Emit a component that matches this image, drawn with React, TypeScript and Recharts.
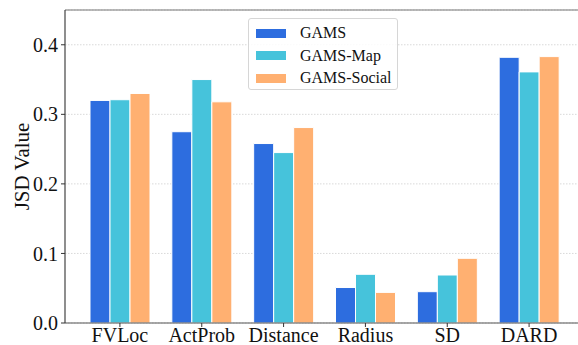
import React from 'react';
import { BarChart, Bar, XAxis, YAxis, CartesianGrid, Legend, ReferenceLine } from 'recharts';

const categories = ['FVLoc', 'ActProb', 'Distance', 'Radius', 'SD', 'DARD'];
const gams = [0.320, 0.275, 0.258, 0.051, 0.045, 0.382];
const gamsMap = [0.321, 0.350, 0.245, 0.070, 0.069, 0.361];
const gamsSocial = [0.330, 0.318, 0.281, 0.044, 0.093, 0.383];
const yTicks = [0, 0.1, 0.2, 0.3, 0.4];

const seriesNames = ['GAMS', 'GAMS-Map', 'GAMS-Social'];
const colors = ['#2d6ddf', '#46c3db', '#ffb071'];

const data = categories.map((c, i) => ({
  name: c,
  GAMS: gams[i],
  'GAMS-Map': gamsMap[i],
  'GAMS-Social': gamsSocial[i],
}));

const FONT = '"Liberation Serif", "Times New Roman", serif';

const LegendBox = () => (
  <div
    style={{
      width: 150,
      height: 72,
      border: '1px solid #d6d6d6',
      borderRadius: 3,
      background: 'rgba(255,255,255,0.85)',
      boxSizing: 'border-box',
      position: 'relative',
      fontFamily: FONT,
      fontSize: 16,
      color: '#111',
    }}
  >
    {seriesNames.map((n, i) => (
      <div key={n} style={{ position: 'absolute', left: 7, top: 4 + i * 22.5, height: 20, display: 'flex', alignItems: 'center' }}>
        <span style={{ display: 'inline-block', width: 30, height: 9, background: colors[i] }} />
        <span style={{ marginLeft: 14, lineHeight: '20px' }}>{n}</span>
      </div>
    ))}
  </div>
);

export default function App() {
  return (
    <div style={{ position: 'absolute', left: 0, top: 0, width: 578, height: 345, overflow: 'hidden', background: '#fff' }}>
      <BarChart
        width={590}
        height={345}
        data={data}
        margin={{ top: 10, right: 6, bottom: 0, left: 0 }}
        barCategoryGap={11}
        barGap={0}
      >
        <CartesianGrid vertical={false} stroke="#d9d9d9" strokeDasharray="1.5 1.5" />
        <XAxis
          dataKey="name"
          height={22}
          padding={{ left: 14, right: 14 }}
          tick={{ fontFamily: FONT, fontSize: 20, fill: '#111' }}
          tickSize={4}
          tickMargin={1}
          axisLine={{ stroke: '#555', strokeWidth: 1.2 }}
          tickLine={{ stroke: '#333' }}
          interval={0}
        />
        <YAxis
          width={65}
          domain={[0, 0.45]}
          ticks={yTicks}
          allowDataOverflow
          tickFormatter={(v: number) => v.toFixed(1)}
          tick={{ fontFamily: FONT, fontSize: 20, fill: '#111' }}
          tickSize={4}
          tickMargin={3}
          axisLine={{ stroke: '#444', strokeWidth: 1.2 }}
          tickLine={{ stroke: '#333' }}
          label={{
            value: 'JSD Value',
            angle: -90,
            position: 'insideLeft',
            offset: 22,
            style: { textAnchor: 'middle', fontFamily: FONT, fontSize: 21, fill: '#111' },
          }}
        />
        <ReferenceLine y={0.45} stroke="#777" strokeWidth={1.2} />
        <Legend
          layout="vertical"
          align="center"
          verticalAlign="middle"
          wrapperStyle={{ position: 'absolute', left: 248, top: 18, width: 150, height: 72 }}
          content={() => <LegendBox />}
        />
        {seriesNames.map((n, i) => (
          <Bar key={n} dataKey={n} fill={colors[i]} stroke="#ffffff" strokeWidth={1} isAnimationActive={false} />
        ))}
      </BarChart>
    </div>
  );
}
